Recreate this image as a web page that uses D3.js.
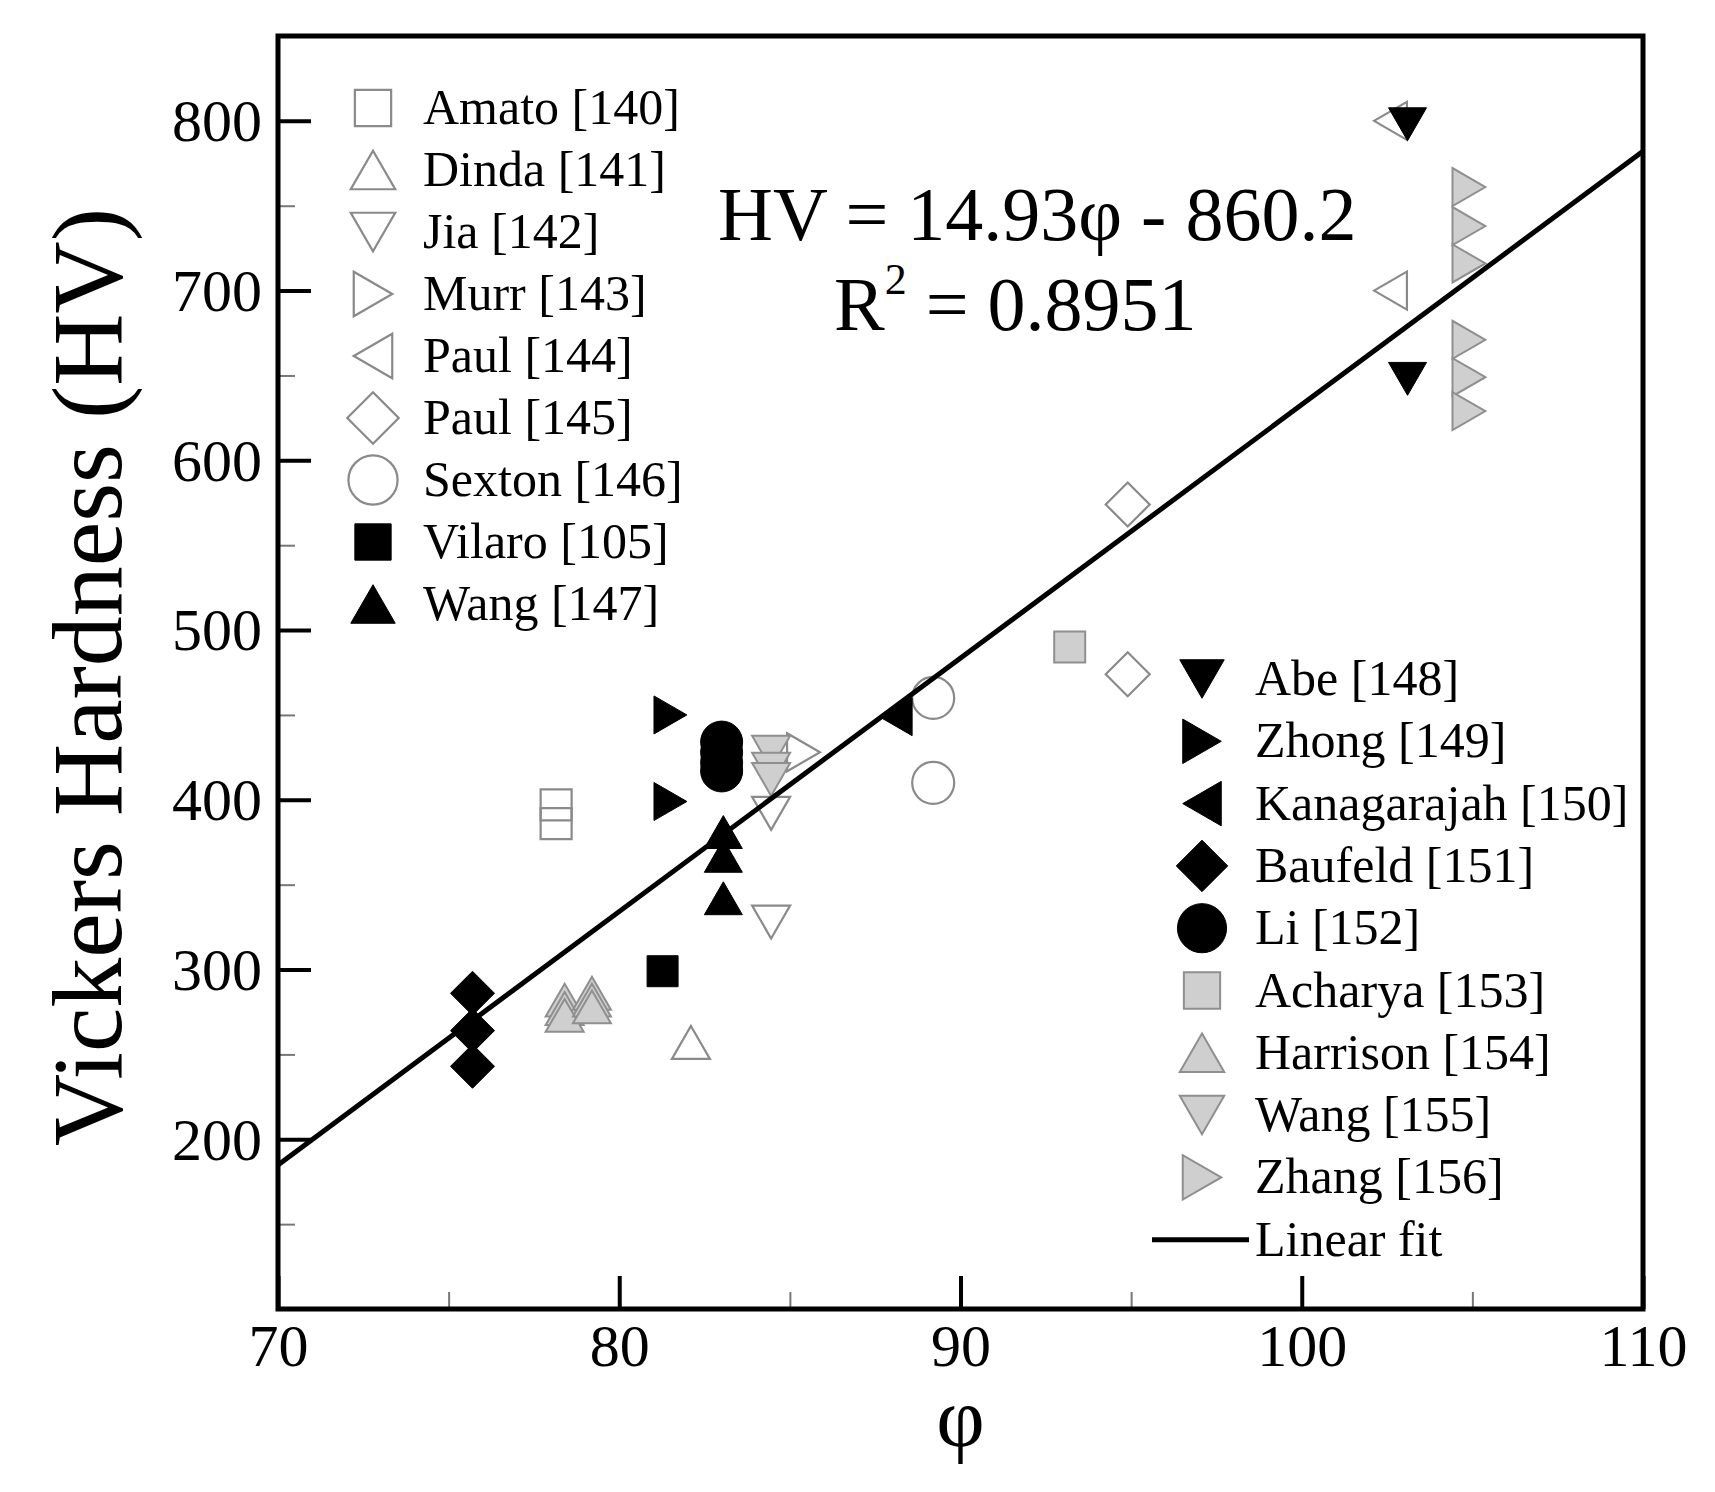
<!DOCTYPE html>
<html>
<head>
<meta charset="utf-8">
<script src="https://cdn.jsdelivr.net/npm/d3@7"></script>
<style>
  body { margin: 0; background: #fff; }
  svg { display: block; font-family: "Liberation Serif", "Times New Roman", serif; }
</style>
</head>
<body>
<svg id="chart" width="1715" height="1492"></svg>
<script>
// Data
const seriesNames = ["Amato [140]", "Dinda [141]", "Jia [142]", "Murr [143]", "Paul [144]", "Paul [145]",
    "Sexton [146]", "Vilaro [105]", "Wang [147]", "Abe [148]", "Zhong [149]", "Kanagarajah [150]",
    "Baufeld [151]", "Li [152]", "Acharya [153]", "Harrison [154]", "Wang [155]", "Zhang [156]"];

const phiValues = [
    [78.15, 78.15],
    [82.1],
    [84.45, 84.45],
    [85.4],
    [102.6, 102.6],
    [94.9, 94.9],
    [89.2, 89.2],
    [81.27],
    [83.05, 83.05, 83.05],
    [103.1, 103.1],
    [81.5, 81.5],
    [88.1],
    [75.7, 75.7, 75.7],
    [83.0, 83.0, 83.0, 83.0],
    [93.2],
    [78.4, 78.4, 78.4, 79.2, 79.2, 79.2],
    [84.45, 84.45, 84.45],
    [104.9, 104.9, 104.9, 104.9, 104.9, 104.9]
];

const hvValues = [
    [397, 386],
    [257],
    [392, 328],
    [428],
    [800, 700],
    [574, 474],
    [460, 410],
    [299],
    [381, 367, 342],
    [798, 648],
    [450, 399],
    [449],
    [286, 264, 243],
    [434, 428, 422, 417],
    [490],
    [282, 277, 273, 286, 282, 278],
    [428, 418, 412],
    [761, 738, 716, 671, 649, 629]
];

const xTicks = [70, 80, 90, 100, 110];
const yTicks = [200, 300, 400, 500, 600, 700, 800];
const xMinorTicks = [75, 85, 95, 105];
const yMinorTicks = [150, 250, 350, 450, 550, 650, 750];

const fitSlope = 14.93, fitIntercept = -860.2, fitR2 = "0.8951";

// Marker styles (shape + paint), one per series
const markerShapes = ["square", "up", "down", "right", "left", "diamond", "circle", "square", "up",
    "down", "right", "left", "diamond", "circle", "square", "up", "down", "right"];
const markerPaint = ["open", "open", "open", "open", "open", "open", "open", "black", "black",
    "black", "black", "black", "black", "black", "grey", "grey", "grey", "grey"];

const paint = {
    open: { fill: "none", stroke: "#8a8a8a", width: 2.2 },
    black: { fill: "#000", stroke: "#000", width: 1 },
    grey: { fill: "#cfcfcf", stroke: "#8f8f8f", width: 2 }
};
const shapeSize = { square: 31, up: 38, down: 38, right: 38, left: 38, diamond: 44, circle: 42 };

function markerPath(shape, size) {
    const h = size / 2, t = size * Math.sqrt(3) / 2;
    switch (shape) {
        case "square": return `M${-h},${-h}H${h}V${h}H${-h}Z`;
        case "diamond": return `M0,${-h}L${h},0L0,${h}L${-h},0Z`;
        case "circle": return `M${h},0A${h},${h} 0 1,1 ${-h},0A${h},${h} 0 1,1 ${h},0Z`;
        case "up": return `M0,${-t / 2}L${h},${t / 2}L${-h},${t / 2}Z`;
        case "down": return `M0,${t / 2}L${h},${-t / 2}L${-h},${-t / 2}Z`;
        case "right": return `M${t / 2},0L${-t / 2},${-h}L${-t / 2},${h}Z`;
        case "left": return `M${-t / 2},0L${t / 2},${-h}L${t / 2},${h}Z`;
    }
}

const svg = d3.select("#chart");
const plot = { left: 278, right: 1643, top: 36, bottom: 1309 };

const x = d3.scaleLinear().domain([70, 110]).range([plot.left, plot.right]);
const y = d3.scaleLinear().domain([100, 850]).range([plot.bottom, plot.top]);

// Axes: major ticks point inward, minor ticks thinner and shorter
const xAxis = svg.append("g")
    .attr("transform", `translate(0,${plot.bottom})`)
    .call(d3.axisBottom(x).tickValues(xTicks).tickSizeInner(-33).tickSizeOuter(0).tickPadding(14));
const yAxis = svg.append("g")
    .attr("transform", `translate(${plot.left},0)`)
    .call(d3.axisLeft(y).tickValues(yTicks).tickSizeInner(-33).tickSizeOuter(0).tickPadding(16));

[xAxis, yAxis].forEach(a => {
    a.select(".domain").remove();
    a.selectAll(".tick line").attr("stroke", "#000").attr("stroke-width", 4);
    a.selectAll(".tick text")
        .attr("fill", "#000")
        .style("font-family", "'Liberation Serif', 'Times New Roman', serif")
        .style("font-size", "60px");
});
yAxis.selectAll(".tick text").attr("dy", "0.33em");

svg.append("g")
    .attr("transform", `translate(0,${plot.bottom})`)
    .call(d3.axisBottom(x).tickValues(xMinorTicks).tickSizeInner(-17).tickSizeOuter(0).tickFormat(""))
    .call(g => g.select(".domain").remove())
    .call(g => g.selectAll(".tick line").attr("stroke", "#777").attr("stroke-width", 2));
svg.append("g")
    .attr("transform", `translate(${plot.left},0)`)
    .call(d3.axisLeft(y).tickValues(yMinorTicks).tickSizeInner(-17).tickSizeOuter(0).tickFormat(""))
    .call(g => g.select(".domain").remove())
    .call(g => g.selectAll(".tick line").attr("stroke", "#777").attr("stroke-width", 2));

// Data markers
const points = seriesNames.flatMap((name, i) =>
    phiValues[i].map((phi, j) => ({ series: i, phi, hv: hvValues[i][j] })));

svg.append("g")
    .selectAll("path")
    .data(points)
    .join("path")
        .attr("transform", d => `translate(${x(d.phi)},${y(d.hv)})`)
        .attr("d", d => markerPath(markerShapes[d.series], shapeSize[markerShapes[d.series]]))
        .attr("fill", d => paint[markerPaint[d.series]].fill)
        .attr("stroke", d => paint[markerPaint[d.series]].stroke)
        .attr("stroke-width", d => paint[markerPaint[d.series]].width);

// Linear fit across the whole x range
const fitLine = x.domain().map(phi => [phi, fitSlope * phi + fitIntercept]);
svg.append("path")
    .attr("d", d3.line().x(d => x(d[0])).y(d => y(d[1]))(fitLine))
    .attr("fill", "none")
    .attr("stroke", "#000")
    .attr("stroke-width", 5);

// Frame
svg.append("rect")
    .attr("x", plot.left).attr("y", plot.top)
    .attr("width", plot.right - plot.left).attr("height", plot.bottom - plot.top)
    .attr("fill", "none")
    .attr("stroke", "#000")
    .attr("stroke-width", 5);

// Axis titles
svg.append("text")
    .attr("transform", `translate(121,677) rotate(-90)`)
    .attr("text-anchor", "middle")
    .style("font-size", "100px")
    .text("Vickers Hardness (HV)");

svg.append("text")
    .attr("x", (plot.left + plot.right) / 2)
    .attr("y", 1446)
    .attr("text-anchor", "middle")
    .style("font-size", "84px")
    .text("φ");

// Fit equation
svg.append("text")
    .attr("x", 718).attr("y", 240)
    .style("font-size", "76px")
    .text(`HV = ${fitSlope}φ - ${-fitIntercept}`);

const r2 = svg.append("text")
    .attr("x", 834).attr("y", 330)
    .style("font-size", "76px");
r2.append("tspan").text("R");
r2.append("tspan").attr("dy", -36).style("font-size", "44px").text("2");
r2.append("tspan").attr("dy", 36).text(` = ${fitR2}`);

// Legends
function drawLegend(indices, sx, tx, baseline0, step) {
    const g = svg.append("g");
    indices.forEach((i, k) => {
        const by = baseline0 + k * step, shape = markerShapes[i], p = paint[markerPaint[i]];
        g.append("path")
            .attr("transform", `translate(${sx},${by - 16})`)
            .attr("d", markerPath(shape, shapeSize[shape] * 1.17))
            .attr("fill", p.fill)
            .attr("stroke", p.stroke)
            .attr("stroke-width", p.width);
        g.append("text")
            .attr("x", tx).attr("y", by)
            .style("font-size", "50px")
            .text(seriesNames[i]);
    });
    return g;
}

drawLegend(d3.range(0, 9), 373, 423, 124, 62);
drawLegend(d3.range(9, 18), 1202, 1255, 695, 62.3);

const fitBase = 695 + 9 * 62.3;
svg.append("line")
    .attr("x1", 1152).attr("x2", 1249)
    .attr("y1", fitBase - 16).attr("y2", fitBase - 16)
    .attr("stroke", "#000")
    .attr("stroke-width", 5);
svg.append("text")
    .attr("x", 1255).attr("y", fitBase)
    .style("font-size", "50px")
    .text("Linear fit");
</script>
</body>
</html>
